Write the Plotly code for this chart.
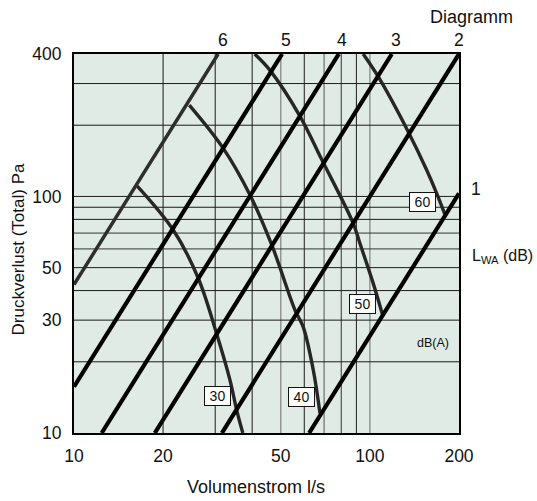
import numpy as np
import plotly.graph_objects as go

# System lines (Diagramm 1..6): endpoints
line_names = ["1", "2", "3", "4", "5", "6"]
line_x = [[62.3, 200], [31.6, 200], [18.75, 118.6], [12.4, 78.5], [10, 50.5], [10, 30.7]]
line_y = [[10, 103], [10, 400], [10, 400], [10, 400], [15.7, 400], [42.4, 400]]

# Noise curves dB(A)
curve_labels = ["30", "40", "50", "60"]
curve_x = [
    [16.36, 21.65, 26.3, 30.3, 33.65, 35.46, 37.2],
    [24.52, 31.95, 39.33, 46.83, 55.8, 59.5, 64.35, 67.8],
    [40.8, 45.9, 58.0, 68.6, 87.8, 92.5, 102.6, 110.4],
    [94.9, 106.7, 134.7, 155.5, 168.1, 179.2],
]
curve_y = [
    [110.6, 72.1, 45.1, 26.4, 16.75, 12.5, 10],
    [243.3, 159.7, 101.4, 61.3, 33.1, 28.1, 18.46, 12.11],
    [400, 342, 218.7, 143.9, 77.0, 63.4, 42.9, 31.5],
    [400, 320.6, 187.7, 129.3, 103.1, 84.0],
]
label_x = [30.6, 58.75, 94.5, 151]
label_y = [14.38, 14.23, 35.0, 95.0]

# Grid
grid_x = [20, 30, 40, 50, 60, 70, 80, 90, 100]
grid_x_col = ["#1a1a1a", "#1a1a1a", "#1a1a1a", "#6b6b6b", "#1a1a1a", "#555", "#333", "#1a1a1a", "#6b6b6b"]
grid_y = [20, 30, 40, 50, 60, 70, 80, 90, 100, 200, 300]
grid_y_col = ["#1a1a1a"] * 4 + ["#333", "#333"] + ["#1a1a1a"] * 5

x_ticks = [10, 20, 50, 100, 200]
y_ticks = [10, 30, 50, 100, 400]

FONT = "Arial, Liberation Sans, sans-serif"
TXT = "#111"
fig = go.Figure()

for gx, c in zip(grid_x, grid_x_col):
    fig.add_trace(go.Scatter(x=[gx, gx], y=[10, 400], mode="lines",
                             line=dict(color=c, width=1), hoverinfo="skip", showlegend=False))
for gy, c in zip(grid_y, grid_y_col):
    fig.add_trace(go.Scatter(x=[10, 200], y=[gy, gy], mode="lines",
                             line=dict(color=c, width=1), hoverinfo="skip", showlegend=False))

for xs, ys in zip(curve_x, curve_y):
    fig.add_trace(go.Scatter(x=xs, y=ys, mode="lines",
                             line=dict(color="#262626", width=3.4, shape="spline", smoothing=1.0),
                             showlegend=False))

for name, xs, ys in zip(line_names, line_x, line_y):
    if name == "6":
        ln = dict(color="#2e2e2e", width=3.5)
    else:
        ln = dict(color="#000", width=4.2)
    fig.add_trace(go.Scatter(x=xs, y=ys, mode="lines", line=ln, showlegend=False, name=name))

ann = []
for t, lx, ly in zip(curve_labels, label_x, label_y):
    ann.append(dict(x=np.log10(lx), y=np.log10(ly), xref="x", yref="y", text=t, showarrow=False,
                    xanchor="center", yanchor="middle", width=23, height=16,
                    font=dict(size=14, color=TXT, family=FONT), bgcolor="white",
                    bordercolor="#111", borderwidth=1, borderpad=1))

# top labels for lines 2..6
shifts = {"2": 0, "3": 4, "4": 3, "5": 4, "6": 5}
for name, xs, ys in zip(line_names, line_x, line_y):
    if name == "1":
        continue
    ann.append(dict(x=np.log10(xs[1]), y=1, xref="x", yref="paper", text=name, showarrow=False,
                    xanchor="center", yanchor="middle", yshift=14, xshift=shifts[name],
                    font=dict(size=17.5, color=TXT, family=FONT)))

ann.append(dict(x=(472 - 74) / 385, y=1, xref="paper", yref="paper", xanchor="center", yanchor="middle",
                yshift=37, text="Diagramm", showarrow=False, font=dict(size=18, color=TXT, family=FONT)))
ann.append(dict(x=(469 - 74) / 385, y=np.log10(107), xref="paper", yref="y", xanchor="left", yanchor="middle",
                text="1", showarrow=False, font=dict(size=17.5, color=TXT, family=FONT)))
ann.append(dict(x=(470 - 74) / 385, y=np.log10(56), xref="paper", yref="y", xanchor="left", yanchor="middle",
                text="L<sub>WA</sub> (dB)", showarrow=False, font=dict(size=16, color=TXT, family=FONT)))
ann.append(dict(x=np.log10(163.7), y=np.log10(23.9), xref="x", yref="y", xanchor="center", yanchor="middle",
                text="dB(A)", showarrow=False, font=dict(size=12.5, color=TXT, family=FONT)))
ann.append(dict(x=(18 - 74) / 385, y=(433 - 249.5) / 379, xref="paper", yref="paper", textangle=-90,
                xanchor="center", yanchor="middle",
                text="Druckverlust (Total) Pa", showarrow=False, font=dict(size=17, color=TXT, family=FONT)))
ann.append(dict(x=(256 - 74) / 385, y=0, xref="paper", yref="paper", xanchor="center", yanchor="middle",
                yshift=-54, text="Volumenstrom l/s", showarrow=False,
                font=dict(size=18, color=TXT, family=FONT)))

fig.update_layout(
    width=537, height=501,
    margin=dict(l=74, r=78, t=54, b=68),
    paper_bgcolor="white", plot_bgcolor="#e1ebe6",
    annotations=ann,
    font=dict(family=FONT, size=17.5, color=TXT),
    xaxis=dict(type="log", range=[1, np.log10(200)], tickvals=x_ticks, ticktext=[str(v) for v in x_ticks],
               showgrid=False, zeroline=False, showline=True, linecolor="black", linewidth=2, mirror=True,
               ticks="", ticklabelstandoff=6, tickfont=dict(size=17.5, color=TXT)),
    yaxis=dict(type="log", range=[1, np.log10(400)], tickvals=y_ticks, ticktext=[str(v) for v in y_ticks],
               showgrid=False, zeroline=False, showline=True, linecolor="black", linewidth=2, mirror=True,
               ticks="", ticklabelstandoff=7, tickfont=dict(size=17.5, color=TXT)),
)

fig.write_html("out.html")
